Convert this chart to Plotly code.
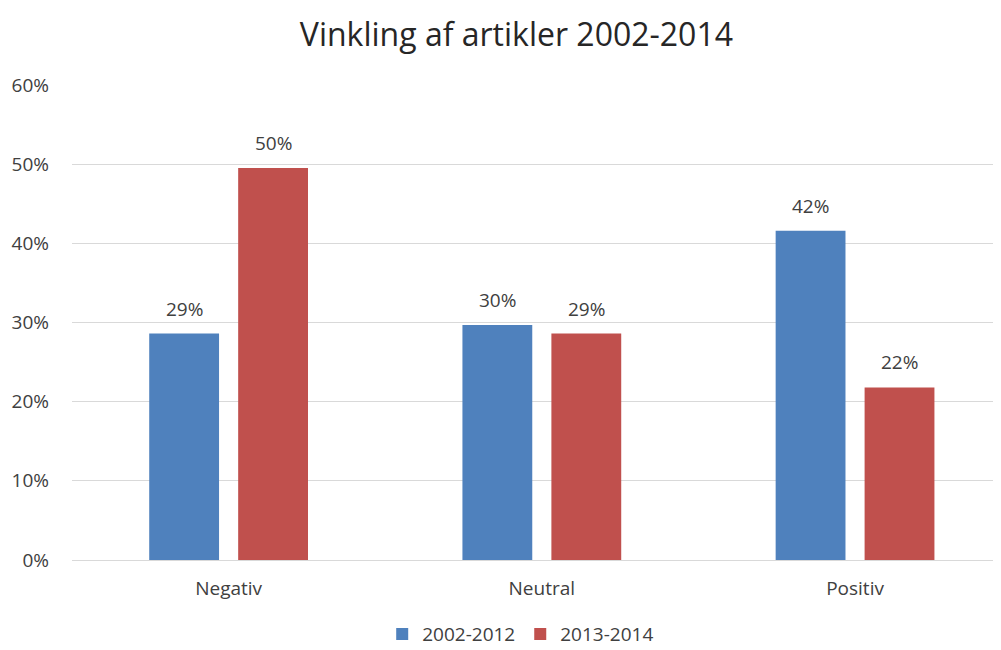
import plotly.graph_objects as go

categories = ["Negativ", "Neutral", "Positiv"]
series_names = ["2002-2012", "2013-2014"]
values_2002_2012 = [0.286, 0.297, 0.416]
values_2013_2014 = [0.495, 0.286, 0.218]
colors = ["#4F81BD", "#C0504D"]
y_ticks = [0, 0.1, 0.2, 0.3, 0.4, 0.5, 0.6]

FONT = "Open Sans"
TXT = "#404040"

fig = go.Figure()
for name, vals, col in zip(series_names, [values_2002_2012, values_2013_2014], colors):
    fig.add_trace(go.Bar(
        x=categories, y=vals, name=name,
        marker=dict(color=col, line=dict(width=0)),
        hoverinfo="skip",
    ))

# data labels above bars
shifts = [-44.5, 44.5]
annotations = []
for vals, xs in zip([values_2002_2012, values_2013_2014], shifts):
    for c, v in zip(categories, vals):
        annotations.append(dict(
            x=c, y=v, xref="x", yref="y", text=f"{v:.0%}",
            showarrow=False, xshift=xs, yshift=25, yanchor="middle",
            font=dict(family=FONT, size=19, color=TXT),
        ))

fig.update_layout(
    width=993, height=642,
    paper_bgcolor="white", plot_bgcolor="white",
    barmode="group", bargap=0.432, bargroupgap=0.215,
    margin=dict(l=64, r=0, t=77, b=90, autoexpand=False),
    title=dict(text="Vinkling af artikler 2002-2014", x=0.512, xanchor="center",
               y=0.958, yanchor="middle",
               font=dict(family=FONT, size=32, color="#262626")),
    font=dict(family=FONT, size=19, color=TXT),
    xaxis=dict(range=[-0.5, 2.466], showgrid=False, showline=True,
               linecolor="#D9D9D9", linewidth=1.3, ticks="",
               ticklabelstandoff=11, tickfont=dict(family=FONT, size=19, color=TXT)),
    yaxis=dict(range=[0, 0.6], tickvals=y_ticks, tickformat=".0%",
               showgrid=True, gridcolor="#D9D9D9", gridwidth=1.3,
               zeroline=False, showline=False, ticks="",
               ticklabelstandoff=22, tickfont=dict(family=FONT, size=19, color=TXT)),
    legend=dict(orientation="h", x=0.483, xanchor="center", y=-0.156, yanchor="middle",
                font=dict(family=FONT, size=19, color=TXT), itemwidth=30,
                traceorder="normal"),
    annotations=annotations,
)

fig.write_html("out.html")
